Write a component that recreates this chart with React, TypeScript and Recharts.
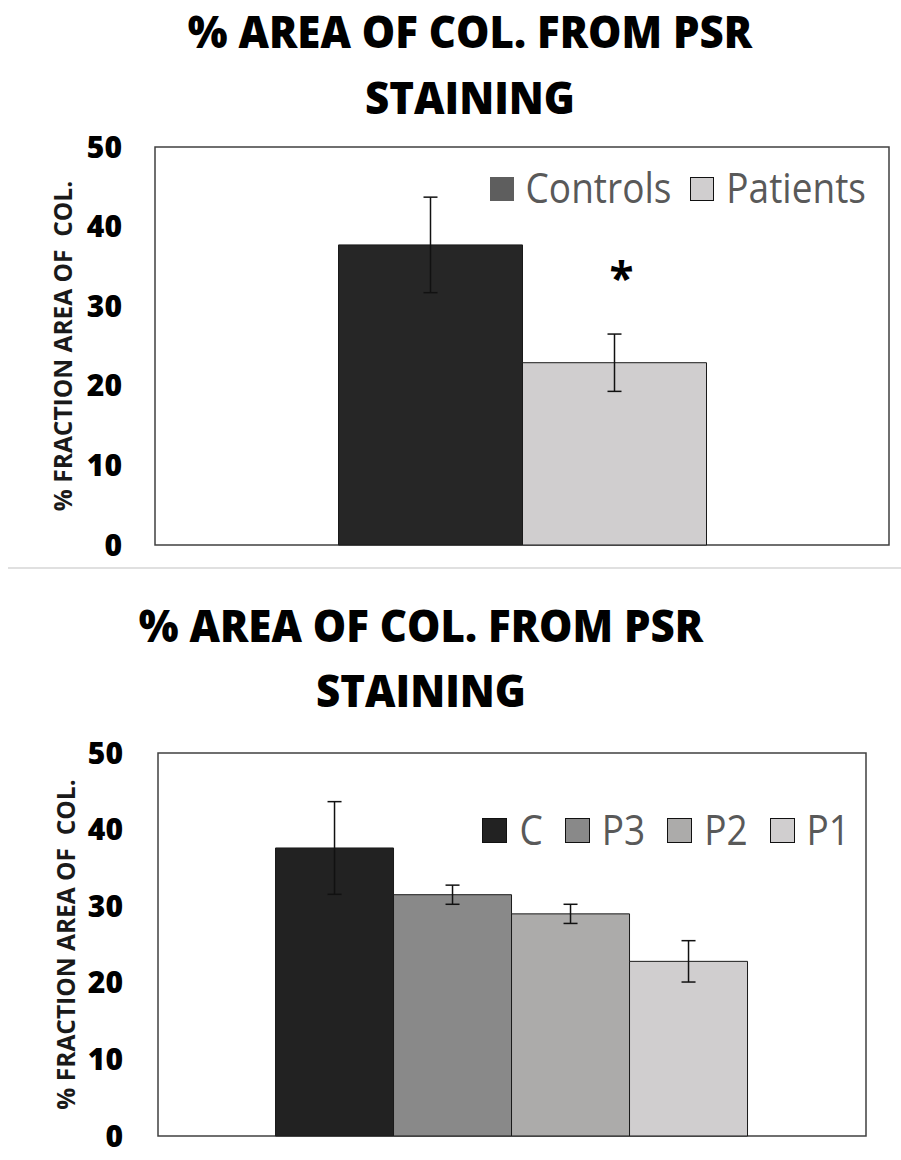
import React from "react";
import {
  BarChart,
  Bar,
  XAxis,
  YAxis,
  ErrorBar,
  LabelList,
  Legend,
  ReferenceArea,
  Label,
} from "recharts";

const FONT = "'Open Sans', 'Noto Sans', sans-serif";

const TITLE_LINES = ["% AREA OF COL. FROM PSR", "STAINING"];
const Y_LABEL = "% FRACTION AREA OF  COL.";
const Y_TICKS = [0, 10, 20, 30, 40, 50];

// top chart: controls vs patients
const GROUPS_A = ["Controls", "Patients"];
const MEANS_A = [37.7, 22.9];
const ERRORS_A = [6.0, 3.6];
const MARKS_A = ["", "*"];
const FILLS_A = ["#262626", "#d0cecf"];
const KEY_FILLS_A = ["#5e5e5e", "#d0cecf"];
const KEY_BORDERS_A = [false, true];

// bottom chart: controls vs patient subgroups
const GROUPS_B = ["C", "P3", "P2", "P1"];
const MEANS_B = [37.6, 31.5, 29.0, 22.8];
const ERRORS_B = [6.05, 1.25, 1.25, 2.7];
const FILLS_B = ["#222222", "#898989", "#acabaa", "#d0cecf"];
const KEY_BORDERS_B = [true, true, true, true];

function toRows(groups: string[], means: number[], errors: number[], marks?: string[]) {
  const row: Record<string, string | number> = { name: "" };
  groups.forEach((g, i) => {
    row[g] = means[i];
    row[g + "Err"] = errors[i];
    if (marks) row[g + "Mark"] = marks[i];
  });
  return [row];
}

const dataA = toRows(GROUPS_A, MEANS_A, ERRORS_A, MARKS_A);
const dataB = toRows(GROUPS_B, MEANS_B, ERRORS_B);

// baseline sits 39px below the top of each 46px line box
function Title({ baseline, center, step }: { baseline: number; center: number; step: number }) {
  return (
    <>
      {TITLE_LINES.map((line, i) => (
        <div
          key={line}
          style={{
            position: "absolute",
            top: baseline - 39 + i * step,
            left: center - 400,
            width: 800,
            height: 46,
            lineHeight: "46px",
            textAlign: "center",
            fontFamily: FONT,
            fontWeight: 800,
            fontSize: 42,
            color: "#000",
            whiteSpace: "nowrap",
            transform: "scaleY(1.05)",
            transformOrigin: "50% 39px",
          }}
        >
          {line}
        </div>
      ))}
    </>
  );
}

// eslint-disable-next-line @typescript-eslint/no-explicit-any
function YLabel({ viewBox }: any) {
  const x = viewBox.x + viewBox.width - 83;
  const y = viewBox.y + viewBox.height / 2;
  return (
    <text
      x={x}
      y={y}
      transform={`rotate(-90 ${x} ${y})`}
      textAnchor="middle"
      fill="#1a1a1a"
      fontFamily={FONT}
      fontWeight={700}
      fontSize={24.5}
      style={{ whiteSpace: "pre" }}
    >
      {Y_LABEL}
    </text>
  );
}

// eslint-disable-next-line @typescript-eslint/no-explicit-any
function renderMark(props: any) {
  const { x, y, width, value } = props;
  if (!value) return null;
  return (
    <text
      x={Number(x) + Number(width) / 2 + 7}
      y={Number(y) - 69}
      textAnchor="middle"
      fill="#000"
      fontFamily={FONT}
      fontWeight={700}
      fontSize={44}
    >
      {value}
    </text>
  );
}

function makeKey(names: string[], fills: string[], borders: boolean[], size: number, gap: number) {
  return function Key() {
    return (
      <div
        style={{
          display: "flex",
          justifyContent: "flex-end",
          alignItems: "center",
          fontFamily: FONT,
          fontSize: 37,
          color: "#595959",
        }}
      >
        {names.map((n, i) => (
          <div key={n} style={{ display: "flex", alignItems: "center", marginLeft: i ? gap : 0 }}>
            <span
              style={{
                width: size,
                height: size,
                boxSizing: "border-box",
                background: fills[i],
                border: borders[i] ? "1.5px solid #111" : "none",
                marginRight: 12,
              }}
            />
            <span
              style={{
                display: "inline-block",
                lineHeight: "37px",
                transform: "scaleY(1.15)",
                transformOrigin: "50% 88%",
              }}
            >
              {n}
            </span>
          </div>
        ))}
      </div>
    );
  };
}

const KeyA = makeKey(GROUPS_A, KEY_FILLS_A, KEY_BORDERS_A, 24, 19);
const KeyB = makeKey(GROUPS_B, FILLS_B, KEY_BORDERS_B, 25, 22);

const tickStyle = { fill: "#000", fontSize: 30, fontWeight: 800, fontFamily: FONT };

export default function App() {
  return (
    <div style={{ position: "absolute", top: 0, left: 0, width: 901, height: 1160, background: "#fff" }}>
      <Title baseline={48} center={470} step={66} />

      <div style={{ position: "absolute", top: 0, left: 0 }}>
        <BarChart
          width={901}
          height={566}
          data={dataA}
          margin={{ top: 147, right: 12, bottom: 21, left: 95 }}
          barCategoryGap="25%"
          barGap={0}
        >
          <XAxis dataKey="name" hide />
          <YAxis
            domain={[0, 50]}
            ticks={Y_TICKS}
            interval={0}
            width={60}
            axisLine={false}
            tickLine={false}
            tickSize={0}
            tickMargin={33}
            tick={tickStyle}
            label={<Label content={<YLabel />} />}
          />
          <ReferenceArea y1={0} y2={50} fill="none" stroke="#404040" strokeWidth={1.5} ifOverflow="visible" />
          {GROUPS_A.map((g, i) => (
            <Bar key={g} dataKey={g} fill={FILLS_A[i]} stroke="#1a1a1a" strokeWidth={1} isAnimationActive={false}>
              <ErrorBar dataKey={g + "Err"} width={7} stroke="#111" strokeWidth={1.5} direction="y" isAnimationActive={false} />
              {MARKS_A[i] ? <LabelList dataKey={g + "Mark"} content={renderMark} /> : null}
            </Bar>
          ))}
          <Legend
            layout="vertical"
            align="center"
            verticalAlign="middle"
            wrapperStyle={{ left: 466, top: 170, width: 400 }}
            content={<KeyA />}
          />
        </BarChart>
      </div>

      <div
        style={{ position: "absolute", top: 567, left: 8, width: 893, height: 2, background: "#e0e0e0" }}
      />

      <Title baseline={641.7} center={421} step={65} />

      <div style={{ position: "absolute", top: 580, left: 0 }}>
        <BarChart
          width={901}
          height={580}
          data={dataB}
          margin={{ top: 173, right: 35, bottom: 24, left: 98 }}
          barCategoryGap="16.6%"
          barGap={0}
        >
          <XAxis dataKey="name" hide />
          <YAxis
            domain={[0, 50]}
            ticks={Y_TICKS}
            interval={0}
            width={60}
            axisLine={false}
            tickLine={false}
            tickSize={0}
            tickMargin={35}
            tick={tickStyle}
            label={<Label content={<YLabel />} />}
          />
          <ReferenceArea y1={0} y2={50} fill="none" stroke="#404040" strokeWidth={1.5} ifOverflow="visible" />
          {GROUPS_B.map((g, i) => (
            <Bar key={g} dataKey={g} fill={FILLS_B[i]} stroke="#1a1a1a" strokeWidth={1} isAnimationActive={false}>
              <ErrorBar dataKey={g + "Err"} width={7} stroke="#111" strokeWidth={1.5} direction="y" isAnimationActive={false} />
            </Bar>
          ))}
          <Legend
            layout="vertical"
            align="center"
            verticalAlign="middle"
            wrapperStyle={{ left: 450, top: 232, width: 400 }}
            content={<KeyB />}
          />
        </BarChart>
      </div>
    </div>
  );
}
